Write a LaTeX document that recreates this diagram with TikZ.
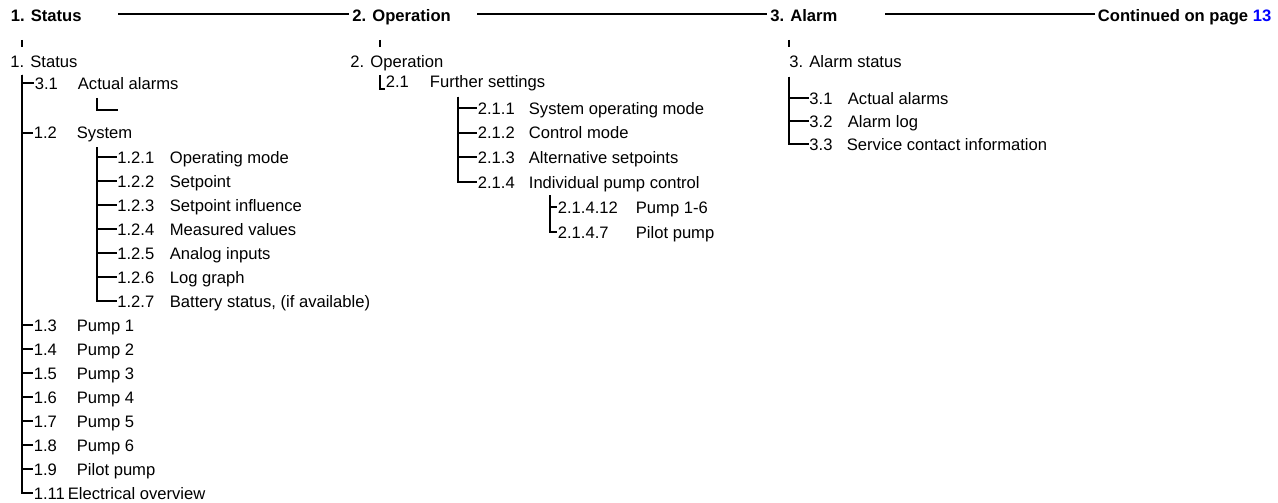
\documentclass[tikz,border=0pt]{standalone}
\usepackage{fontspec}
\setmainfont{Liberation Sans}

\begin{document}
\begin{tikzpicture}[x=1pt, y=-1pt, line width=1.8pt,
    txt/.style={anchor=west, inner sep=0pt, text height=12pt, text depth=0pt, font=\fontsize{16.6}{19}\selectfont},
    head/.style={txt, font=\fontsize{16.6}{19}\selectfont\bfseries}]
    \useasboundingbox (0, 0) rectangle (1278, 503);

    \node[head] (H1) at (10, 16) {1. Status};
    \node[head] (H2) at (351.5, 16) {2. Operation};
    \node[head] (H3) at (769.5, 16) {3. Alarm};
    \node[head] (H4) at (1097, 16) {Continued on page \textcolor{blue}{13}};

    \coordinate (L1) at (118, 14);
    \coordinate (L2) at (477, 14);
    \coordinate (L3) at (885, 14);
    \draw[shorten >=3pt] (L1) -- (L1 -| H2.west);
    \draw[shorten >=3pt] (L2) -- (L2 -| H3.west);
    \draw[shorten >=2pt] (L3) -- (L3 -| H4.west);

    \node[txt] (S1) at (9.5, 62) {1. Status};
    \node[txt] (S2) at (349.5, 62) {2. Operation};
    \node[txt] (S3) at (788.5, 62) {3. Alarm status};

    \coordinate (T1) at (22, 40);
    \coordinate (T2) at (380, 40);
    \coordinate (T3) at (789, 40);
    \draw[shorten >=8pt] (T1) -- (T1 |- S1.north);
    \draw[shorten >=8pt] (T2) -- (T2 |- S2.north);
    \draw[shorten >=8pt] (T3) -- (T3 |- S3.north);

    \node[txt] (n31a) at (34, 83) {3.1};
    \node[txt] (t31a) at (77, 83) {Actual alarms};
    \node[txt] (n12) at (33, 133) {1.2};
    \node[txt] (t12) at (76, 133) {System};
    \node[txt] (n121) at (116.5, 157) {1.2.1};
    \node[txt] (t121) at (169, 157) {Operating mode};
    \node[txt] (n122) at (116.5, 181) {1.2.2};
    \node[txt] (t122) at (169, 181) {Setpoint};
    \node[txt] (n123) at (116.5, 205) {1.2.3};
    \node[txt] (t123) at (169, 205) {Setpoint influence};
    \node[txt] (n124) at (116.5, 229) {1.2.4};
    \node[txt] (t124) at (169, 229) {Measured values};
    \node[txt] (n125) at (116.5, 253) {1.2.5};
    \node[txt] (t125) at (169, 253) {Analog inputs};
    \node[txt] (n126) at (116.5, 277) {1.2.6};
    \node[txt] (t126) at (169, 277) {Log graph};
    \node[txt] (n127) at (116.5, 301) {1.2.7};
    \node[txt] (t127) at (169, 301) {Battery status, (if available)};
    \node[txt] (n13) at (33, 325) {1.3};
    \node[txt] (t13) at (76, 325) {Pump 1};
    \node[txt] (n14) at (33, 349) {1.4};
    \node[txt] (t14) at (76, 349) {Pump 2};
    \node[txt] (n15) at (33, 373) {1.5};
    \node[txt] (t15) at (76, 373) {Pump 3};
    \node[txt] (n16) at (33, 397) {1.6};
    \node[txt] (t16) at (76, 397) {Pump 4};
    \node[txt] (n17) at (33, 421) {1.7};
    \node[txt] (t17) at (76, 421) {Pump 5};
    \node[txt] (n18) at (33, 445) {1.8};
    \node[txt] (t18) at (76, 445) {Pump 6};
    \node[txt] (n19) at (33, 469) {1.9};
    \node[txt] (t19) at (76, 469) {Pilot pump};
    \node[txt] (n111) at (33, 493) {1.11};
    \node[txt] (t111) at (67, 493) {Electrical overview};

    \coordinate (C1) at (22, 75);
    \draw (C1) |- (n31a.west);
    \draw (C1) |- (n12.west);
    \draw (C1) |- (n13.west);
    \draw (C1) |- (n14.west);
    \draw (C1) |- (n15.west);
    \draw (C1) |- (n16.west);
    \draw (C1) |- (n17.west);
    \draw (C1) |- (n18.west);
    \draw (C1) |- (n19.west);
    \draw (C1) |- (n111.west);

    \coordinate (E1) at (97, 98);
    \coordinate (E2) at (118, 110);
    \draw (E1) |- (E2);

    \coordinate (C12) at (97, 147);
    \draw (C12) |- (n121.west);
    \draw (C12) |- (n122.west);
    \draw (C12) |- (n123.west);
    \draw (C12) |- (n124.west);
    \draw (C12) |- (n125.west);
    \draw (C12) |- (n126.west);
    \draw (C12) |- (n127.west);

    \node[txt] (n21) at (385, 82) {2.1};
    \node[txt] (t21) at (429, 82) {Further settings};
    \node[txt] (n211) at (477, 108) {2.1.1};
    \node[txt] (t211) at (528, 108) {System operating mode};
    \node[txt] (n212) at (477, 133) {2.1.2};
    \node[txt] (t212) at (528, 133) {Control mode};
    \node[txt] (n213) at (477, 157) {2.1.3};
    \node[txt] (t213) at (528, 157) {Alternative setpoints};
    \node[txt] (n214) at (477, 182) {2.1.4};
    \node[txt] (t214) at (528, 182) {Individual pump control};
    \node[txt] (n2141) at (557, 207) {2.1.4.12};
    \node[txt] (t2141) at (635, 207) {Pump 1-6};
    \node[txt] (n2147) at (557, 232) {2.1.4.7};
    \node[txt] (t2147) at (635, 232) {Pilot pump};

    \coordinate (C2) at (380, 75);
    \draw (C2) |- (n21.south west);
    \coordinate (C21) at (458, 97);
    \draw (C21) |- (n211.west);
    \draw (C21) |- (n212.west);
    \draw (C21) |- (n213.west);
    \draw (C21) |- (n214.west);
    \coordinate (C214) at (550, 195);
    \draw (C214) |- (n2141.west);
    \draw (C214) |- (n2147.west);

    \node[txt] (n31) at (808.5, 98) {3.1};
    \node[txt] (t31) at (847, 98) {Actual alarms};
    \node[txt] (n32) at (808.5, 121) {3.2};
    \node[txt] (t32) at (847, 121) {Alarm log};
    \node[txt] (n33) at (808.5, 144) {3.3};
    \node[txt] (t33) at (846, 144) {Service contact information};

    \coordinate (C3) at (789, 77);
    \draw (C3) |- (n31.west);
    \draw (C3) |- (n32.west);
    \draw (C3) |- (n33.west);
  \end{tikzpicture}
\end{document}
